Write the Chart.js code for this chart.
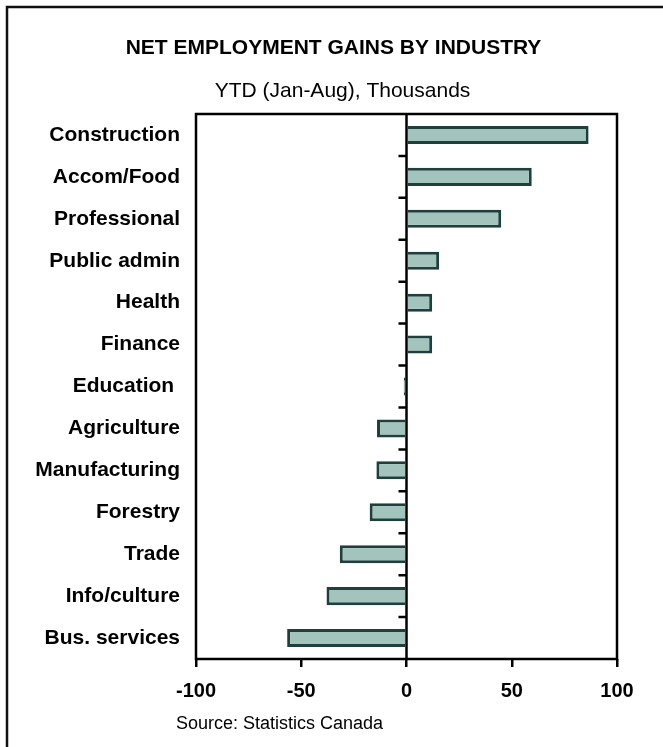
<!DOCTYPE html>
<html>
<head>
<meta charset="utf-8">
<script src="https://cdn.jsdelivr.net/npm/chart.js@4/dist/chart.umd.min.js"></script>
<style>
  html, body { margin: 0; padding: 0; background: #fff; }
  #wrap { width: 663px; height: 747px; position: relative; }
  canvas { display: block; }
</style>
</head>
<body>
<div id="wrap"><canvas id="c" width="663" height="747"></canvas></div>
<script>
const categories = ['Construction', 'Accom/Food', 'Professional', 'Public admin', 'Health', 'Finance', 'Education ', 'Agriculture', 'Manufacturing', 'Forestry', 'Trade', 'Info/culture', 'Bus. services'];
const gains = [86.5, 59.5, 45, 15.5, 12.2, 12.2, -1.3, -14, -14.3, -17.5, -31.7, -38, -56.7];
const xTicks = [-100, -50, 0, 50, 100];

const titleText = 'NET EMPLOYMENT GAINS BY INDUSTRY';
const subtitleText = 'YTD (Jan-Aug), Thousands';
const sourceText = 'Source: Statistics Canada';

const FONT = "'Liberation Sans', Arial, Helvetica, sans-serif";

const decorations = {
  id: 'decorations',
  beforeDraw(chart) {
    const ctx = chart.ctx;
    ctx.save();
    ctx.fillStyle = '#fff';
    ctx.fillRect(0, 0, chart.width, chart.height);
    // outer frame (top & left visible)
    ctx.strokeStyle = '#111';
    ctx.lineWidth = 2.5;
    ctx.beginPath();
    ctx.moveTo(7, chart.height + 5);
    ctx.lineTo(7, 7);
    ctx.lineTo(chart.width + 5, 7);
    ctx.stroke();
    // titles
    ctx.fillStyle = '#000';
    ctx.textAlign = 'center';
    ctx.textBaseline = 'alphabetic';
    ctx.font = 'bold 21px ' + FONT;
    ctx.fillText(titleText, 333.5, 54);
    ctx.font = '21px ' + FONT;
    ctx.fillText(subtitleText, 342.5, 97);
    ctx.textAlign = 'left';
    ctx.font = '18px ' + FONT;
    ctx.fillText(sourceText, 176, 729);
    ctx.restore();
  },
  afterDatasetsDraw(chart) {
    const ctx = chart.ctx;
    const a = chart.chartArea;
    const xs = chart.scales.x, ys = chart.scales.y;
    const zx = xs.getPixelForValue(0);
    ctx.save();
    ctx.strokeStyle = '#000';
    ctx.lineWidth = 2.5;
    // zero line
    ctx.beginPath();
    ctx.moveTo(zx, a.top);
    ctx.lineTo(zx, a.bottom);
    ctx.stroke();
    // category separator ticks on zero axis
    ctx.beginPath();
    for (let i = 0; i < categories.length - 1; i++) {
      const y = (ys.getPixelForValue(i) + ys.getPixelForValue(i + 1)) / 2;
      ctx.moveTo(zx - 8, y);
      ctx.lineTo(zx, y);
    }
    ctx.stroke();
    // plot frame
    ctx.strokeRect(a.left, a.top, a.right - a.left, a.bottom - a.top);
    ctx.restore();
  }
};

new Chart(document.getElementById('c'), {
  type: 'bar',
  data: {
    labels: categories,
    datasets: [{
      data: gains,
      backgroundColor: '#a3c4bc',
      borderColor: '#1e3f3c',
      borderWidth: 3,
      borderSkipped: 'start',
      barPercentage: 0.43,
      categoryPercentage: 1.0
    }]
  },
  options: {
    indexAxis: 'y',
    responsive: false,
    animation: false,
    devicePixelRatio: 1,
    layout: { padding: { left: 36, right: 46, top: 114, bottom: 38 } },
    plugins: { legend: { display: false }, title: { display: false }, tooltip: { enabled: false } },
    scales: {
      x: {
        type: 'linear',
        min: -100, max: 100,
        afterBuildTicks(s) { s.ticks = xTicks.map(v => ({ value: v })); },
        afterFit(s) { s.height = 50; },
        border: { display: false },
        grid: {
          color: 'transparent',
          tickColor: '#000',
          lineWidth: 2.5,
          tickLength: 8,
          drawOnChartArea: false
        },
        ticks: {
          color: '#000',
          padding: 12,
          font: { family: FONT, size: 20, weight: 'bold' }
        }
      },
      y: {
        afterFit(s) { s.width = 160; },
        border: { display: false },
        grid: { display: false, drawTicks: false },
        ticks: {
          color: '#000',
          padding: 16,
          font: { family: FONT, size: 21, weight: 'bold' }
        }
      }
    }
  },
  plugins: [decorations]
});
</script>
</body>
</html>
